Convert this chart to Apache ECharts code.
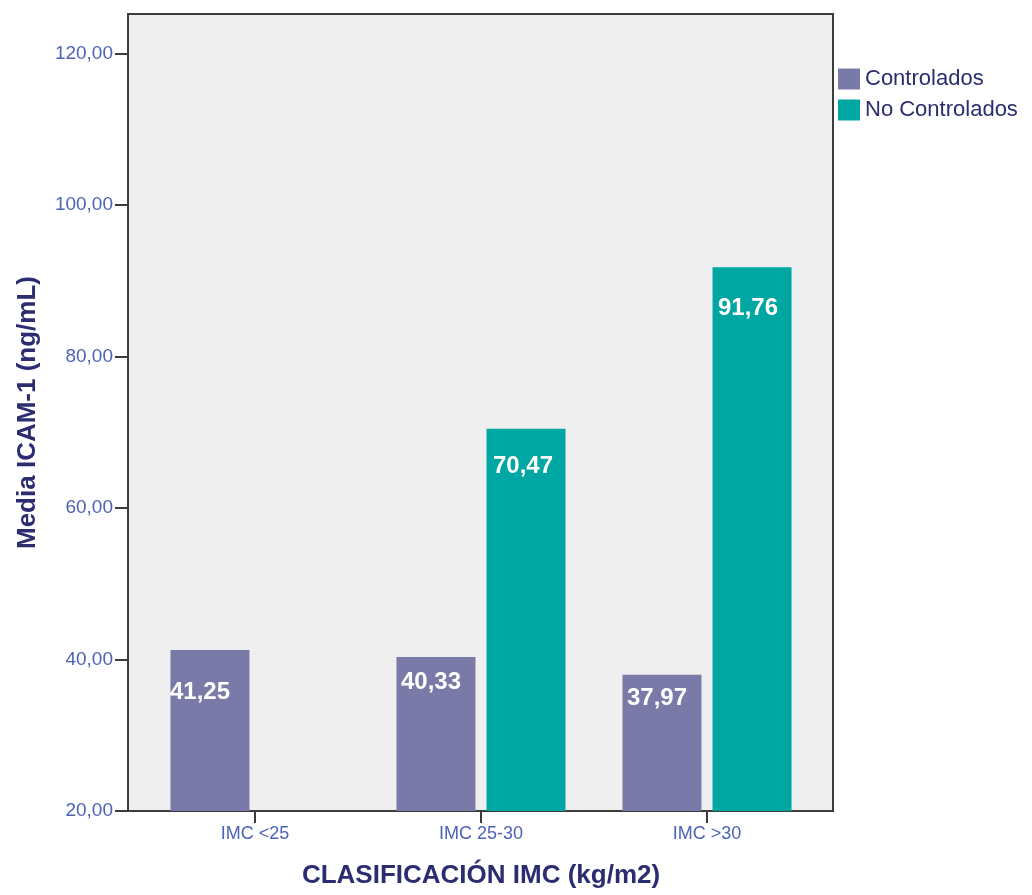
<!DOCTYPE html>
<html>
<head>
<meta charset="utf-8">
<script src="https://cdn.jsdelivr.net/npm/echarts@6/dist/echarts.min.js"></script>
<style>
  html, body { margin: 0; padding: 0; background: #ffffff; }
  #chart { width: 1032px; height: 895px; }
</style>
</head>
<body>
<div id="chart"></div>
<script>
// Mean ICAM-1 by BMI class, controlled vs. not controlled
const categories = ['IMC <25', 'IMC 25-30', 'IMC >30'];
const seriesNames = ['Controlados', 'No Controlados'];
const controlados = [41.25, 40.33, 37.97];
const noControlados = [null, 70.47, 91.76];
const yTicks = [20, 40, 60, 80, 100, 120];

// label nudges [dx, dy from bar top to text centre] per bar
const labelNudge = [
  [[-10, 43], [-5, 26], [-5, 25]],
  [[0, 0], [-3, 39], [-4, 42]]
];

const comma = v => v.toFixed(2).replace('.', ',');
const navy = '#2b2d70';
const blue = '#4d62b8';
const font = '"Liberation Sans", Arial, sans-serif';

function buildData(values, s) {
  return values.map((v, i) => ({
    value: v,
    label: { offset: [labelNudge[s][i][0], labelNudge[s][i][1] - 13] }
  }));
}

const barLabel = {
  show: true,
  position: 'insideTop',
  distance: 0,
  color: '#ffffff',
  fontFamily: font,
  fontWeight: 'bold',
  fontSize: 24,
  formatter: p => comma(p.value)
};

const chart = echarts.init(document.getElementById('chart'), null, { renderer: 'canvas' });
chart.setOption({
  animation: false,
  backgroundColor: '#ffffff',
  textStyle: { fontFamily: font },
  grid: [
    { left: 128, right: 199, top: 14, bottom: 84, show: true,
      backgroundColor: '#efefef', borderColor: '#3c3c3c', borderWidth: 2 },
    { left: 142, right: 212, top: 14, bottom: 84 }
  ],
  legend: {
    orient: 'vertical',
    left: 833, top: 63,
    itemWidth: 22, itemHeight: 21, itemGap: 9,
    icon: 'rect',
    textStyle: { color: navy, fontSize: 22, fontFamily: font },
    data: seriesNames
  },
  xAxis: [
    { gridIndex: 0, type: 'category', data: categories, show: false },
    { gridIndex: 1, type: 'category', data: categories,
      axisLine: { show: false },
      axisTick: { show: true, alignWithLabel: true, length: 12,
        lineStyle: { color: '#3c3c3c', width: 2 } },
      axisLabel: { color: blue, fontSize: 18, margin: 14, fontFamily: font },
      name: 'CLASIFICACIÓN IMC (kg/m2)',
      nameLocation: 'middle', nameGap: 52,
      nameTextStyle: { color: navy, fontSize: 26, fontWeight: 'bold', fontFamily: font } }
  ],
  yAxis: [
    { gridIndex: 0, type: 'value', min: yTicks[0], max: 125.2, interval: 20,
      axisLine: { show: false },
      axisTick: { show: true, length: 13, lineStyle: { color: '#3c3c3c', width: 2 },
        customValues: yTicks },
      axisLabel: { color: blue, fontSize: 19, margin: 15, fontFamily: font,
        customValues: yTicks, formatter: v => comma(v),
        verticalAlign: 'middle', padding: [7, 0, 0, 0] },
      splitLine: { show: false },
      name: 'Media ICAM-1 (ng/mL)',
      nameLocation: 'middle', nameGap: 87,
      nameTextStyle: { color: navy, fontSize: 26, fontWeight: 'bold', fontFamily: font } },
    { gridIndex: 1, type: 'value', min: yTicks[0], max: 125.2, show: false,
      splitLine: { show: false } }
  ],
  series: [
    { name: seriesNames[0], type: 'bar', xAxisIndex: 1, yAxisIndex: 1,
      barWidth: 79, barGap: '14%',
      itemStyle: { color: '#7a7aa8' },
      label: barLabel,
      data: buildData(controlados, 0) },
    { name: seriesNames[1], type: 'bar', xAxisIndex: 1, yAxisIndex: 1,
      barWidth: 79, barGap: '14%',
      itemStyle: { color: '#00a6a2' },
      label: barLabel,
      data: buildData(noControlados, 1) }
  ]
});
</script>
</body>
</html>
